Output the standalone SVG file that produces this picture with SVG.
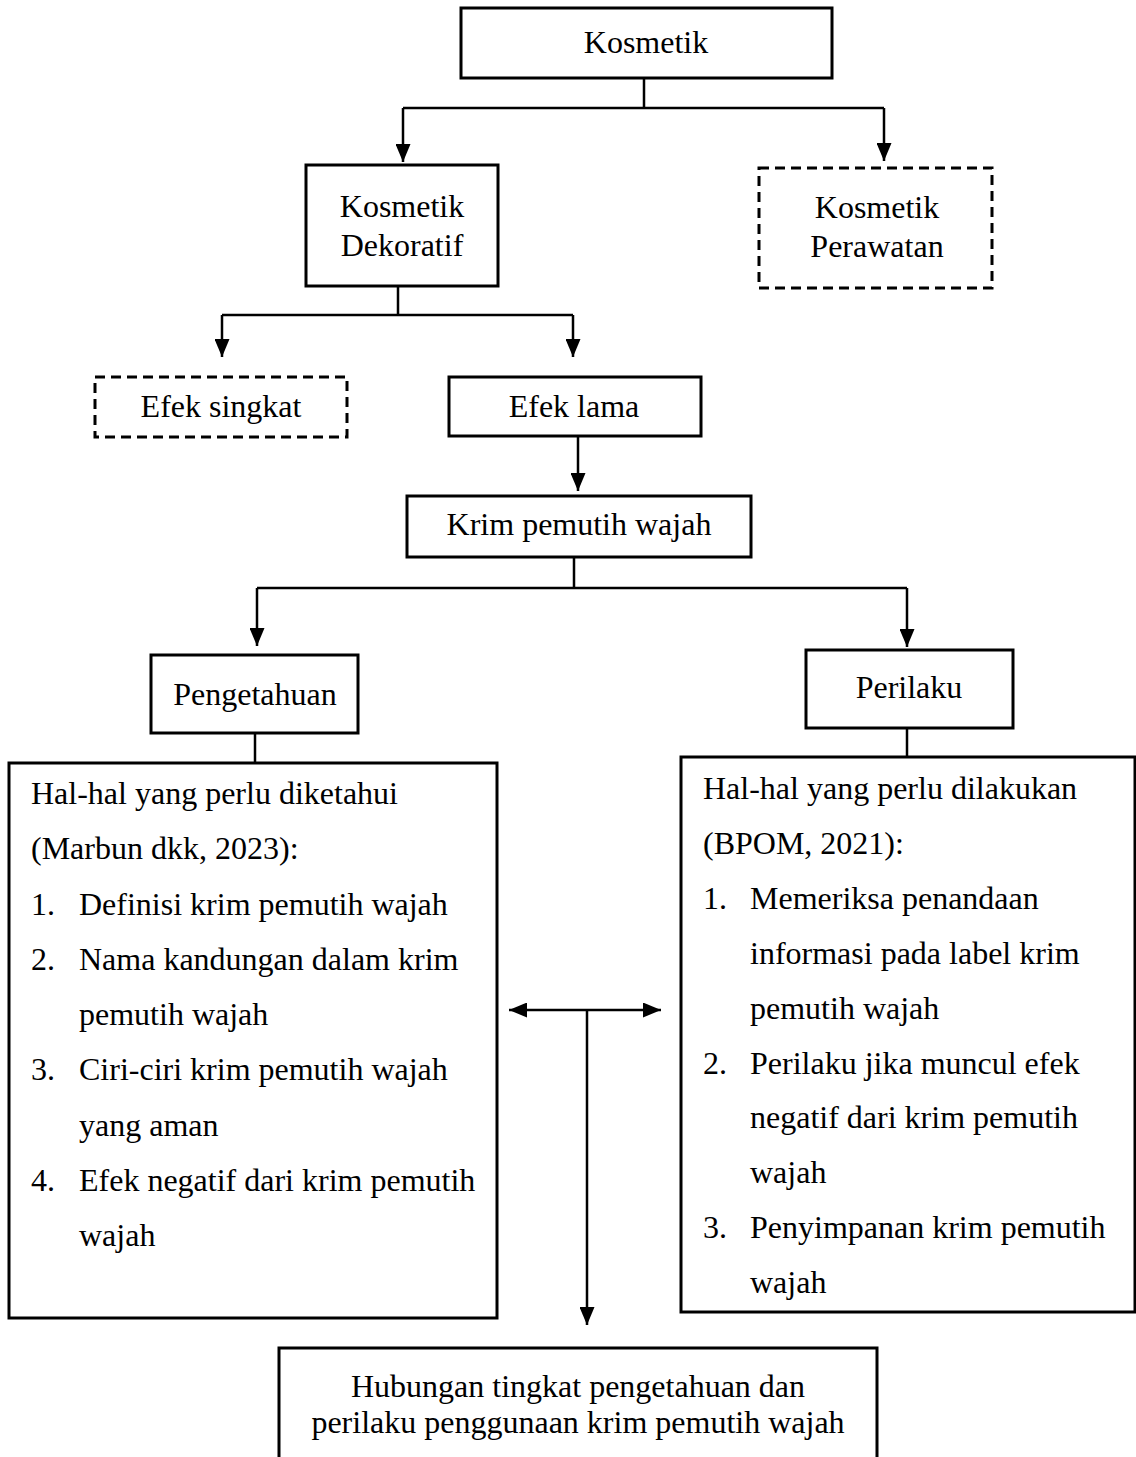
<svg xmlns="http://www.w3.org/2000/svg" width="1136" height="1457" viewBox="0 0 1136 1457">
<style>
  .box { fill: #fff; stroke: #000; stroke-width: 3; }
  .dash { fill: #fff; stroke: #000; stroke-width: 3; stroke-dasharray: 10 6; }
  .conn { fill: none; stroke: #000; stroke-width: 2.5; }
  text { font-family: "Liberation Serif", "Times New Roman", serif; font-size: 32px; fill: #000; }
  .c { text-anchor: middle; }
</style>
<defs>
  <marker id="arr" markerUnits="userSpaceOnUse" markerWidth="18" markerHeight="15" refX="18" refY="7.5" orient="auto-start-reverse" viewBox="0 0 18 15">
    <path d="M0,0 L18,7.5 L0,15 z" fill="#000"/>
  </marker>
</defs>
<rect width="1136" height="1457" fill="#fff"/>

<g id="connectors">
  <path class="conn" d="M644,78 V108 M403,108 H884"/>
  <path class="conn" d="M403,108 V162" marker-end="url(#arr)"/>
  <path class="conn" d="M884,108 V161" marker-end="url(#arr)"/>
  <path class="conn" d="M398,286 V315 M222,315 H573"/>
  <path class="conn" d="M222,315 V357" marker-end="url(#arr)"/>
  <path class="conn" d="M573,315 V357" marker-end="url(#arr)"/>
  <path class="conn" d="M578,436 V491" marker-end="url(#arr)"/>
  <path class="conn" d="M574,557 V588 M257,588 H907"/>
  <path class="conn" d="M257,588 V646" marker-end="url(#arr)"/>
  <path class="conn" d="M907,588 V647" marker-end="url(#arr)"/>
  <path class="conn" d="M255,733 V763"/>
  <path class="conn" d="M907,728 V757"/>
  <path class="conn" d="M509,1010 H661" marker-start="url(#arr)" marker-end="url(#arr)"/>
  <path class="conn" d="M587,1010 V1325" marker-end="url(#arr)"/>
</g>

<g id="kosmetik">
  <rect class="box" x="461" y="8" width="371" height="70"/>
  <text class="c" x="646" y="53">Kosmetik</text>
</g>
<g id="kosmetik-dekoratif">
  <rect class="box" x="306" y="165" width="192" height="121"/>
  <text class="c" x="402" y="217">Kosmetik</text>
  <text class="c" x="402" y="256">Dekoratif</text>
</g>
<g id="kosmetik-perawatan">
  <rect class="dash" x="759" y="168" width="233" height="120"/>
  <text class="c" x="877" y="218">Kosmetik</text>
  <text class="c" x="877" y="257">Perawatan</text>
</g>
<g id="efek-singkat">
  <rect class="dash" x="95" y="377" width="252" height="60"/>
  <text class="c" x="221" y="417">Efek singkat</text>
</g>
<g id="efek-lama">
  <rect class="box" x="449" y="377" width="252" height="59"/>
  <text class="c" x="574" y="417">Efek lama</text>
</g>
<g id="krim-pemutih-wajah">
  <rect class="box" x="407" y="496" width="344" height="61"/>
  <text class="c" x="579" y="535">Krim pemutih wajah</text>
</g>
<g id="pengetahuan">
  <rect class="box" x="151" y="655" width="207" height="78"/>
  <text class="c" x="255" y="705">Pengetahuan</text>
</g>
<g id="perilaku">
  <rect class="box" x="806" y="650" width="207" height="78"/>
  <text class="c" x="909" y="698">Perilaku</text>
</g>
<g id="hal-diketahui">
  <rect class="box" x="9" y="763" width="488" height="555"/>
  <text x="31" y="804">Hal-hal yang perlu diketahui</text>
  <text x="31" y="859">(Marbun dkk, 2023):</text>
  <text x="31" y="915">1.</text><text x="79" y="915">Definisi krim pemutih wajah</text>
  <text x="31" y="970">2.</text><text x="79" y="970">Nama kandungan dalam krim</text>
  <text x="79" y="1025">pemutih wajah</text>
  <text x="31" y="1080">3.</text><text x="79" y="1080">Ciri-ciri krim pemutih wajah</text>
  <text x="79" y="1136">yang aman</text>
  <text x="31" y="1191">4.</text><text x="79" y="1191">Efek negatif dari krim pemutih</text>
  <text x="79" y="1246">wajah</text>
</g>
<g id="hal-dilakukan">
  <rect class="box" x="681" y="757" width="454" height="555"/>
  <text x="703" y="799">Hal-hal yang perlu dilakukan</text>
  <text x="703" y="854">(BPOM, 2021):</text>
  <text x="703" y="909">1.</text><text x="750" y="909">Memeriksa penandaan</text>
  <text x="750" y="964">informasi pada label krim</text>
  <text x="750" y="1019">pemutih wajah</text>
  <text x="703" y="1074">2.</text><text x="750" y="1074">Perilaku jika muncul efek</text>
  <text x="750" y="1128">negatif dari krim pemutih</text>
  <text x="750" y="1183">wajah</text>
  <text x="703" y="1238">3.</text><text x="750" y="1238">Penyimpanan krim pemutih</text>
  <text x="750" y="1293">wajah</text>
</g>
<g id="hubungan">
  <path class="box" d="M279,1462 V1348 H877 V1462"/>
  <text class="c" x="578" y="1397">Hubungan tingkat pengetahuan dan</text>
  <text class="c" x="578" y="1433">perilaku penggunaan krim pemutih wajah</text>
</g>
</svg>
